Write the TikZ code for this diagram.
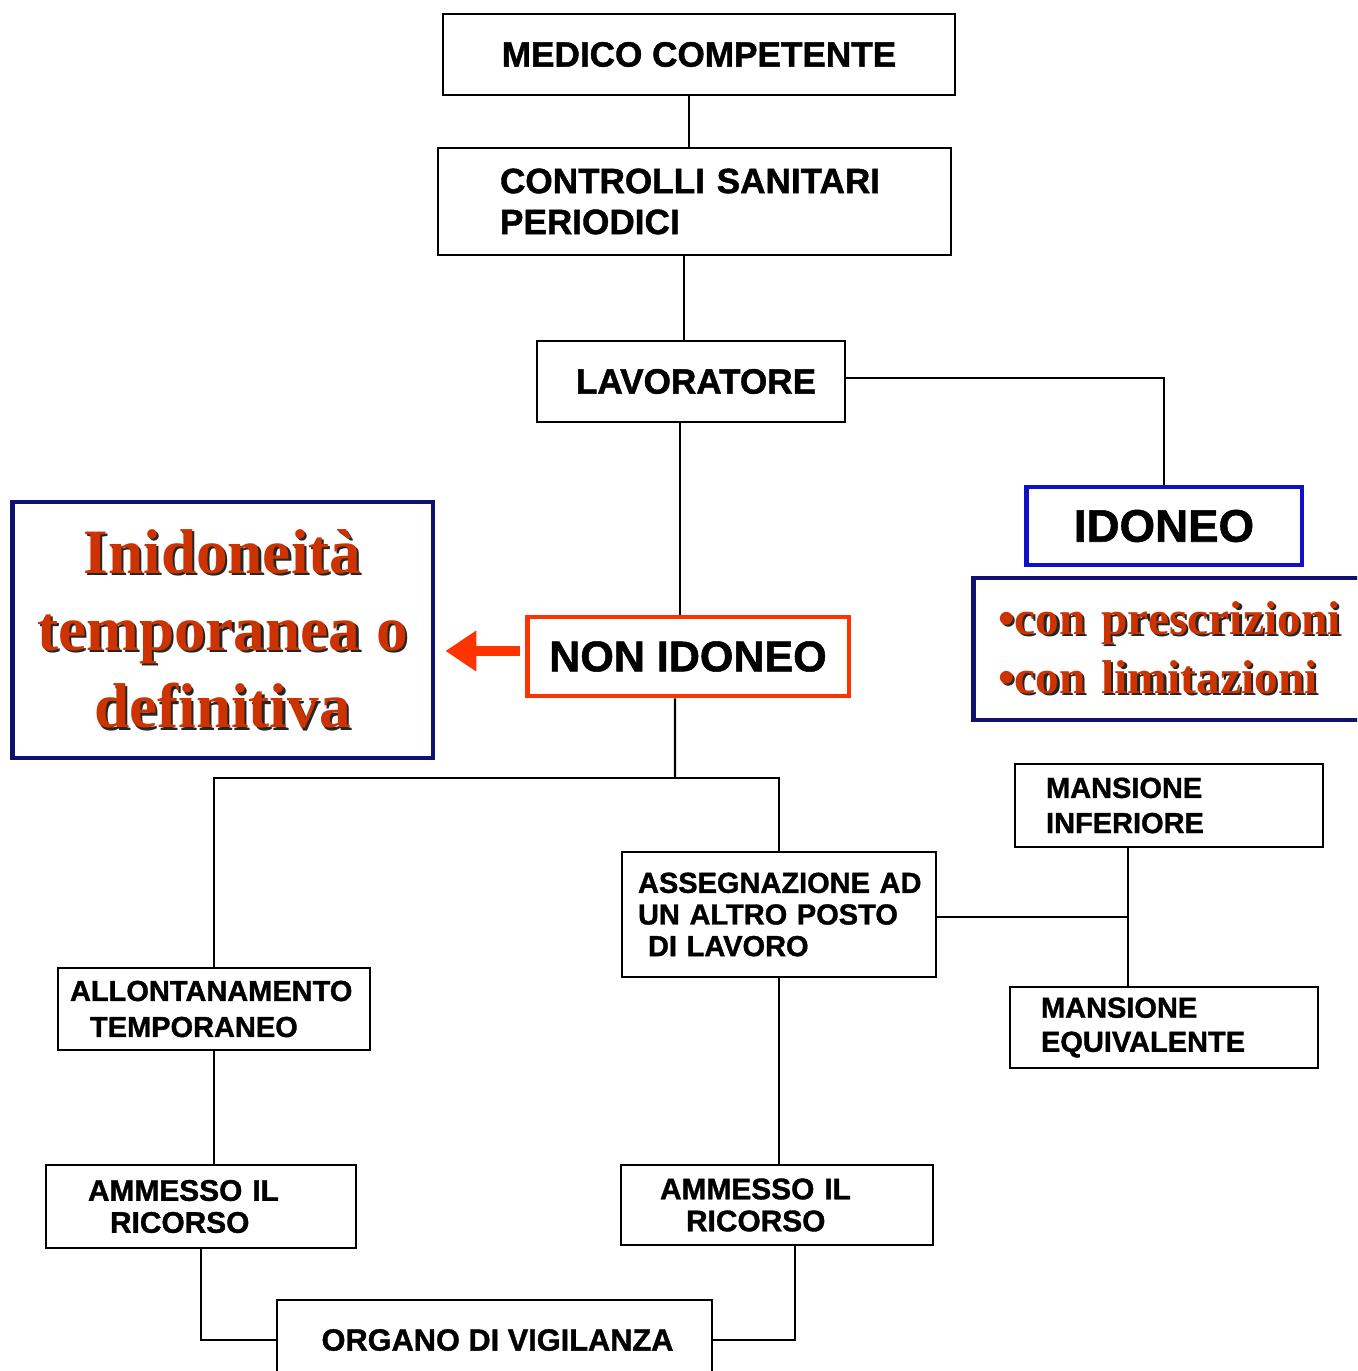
\documentclass[tikz,border=0pt]{standalone}
\usepackage{fontspec}
\setmainfont{Liberation Sans}[BoldFeatures={FakeBold=1.2}]
\newfontfamily\serifbf{Liberation Serif}
\usetikzlibrary{arrows.meta}
\definecolor{redtxt}{RGB}{204,51,0}
\definecolor{nired}{RGB}{255,51,0}
\definecolor{idblue}{RGB}{16,16,204}
\definecolor{navy}{RGB}{16,16,112}
\newcommand{\shd}[1]{\makebox[0pt][l]{\hspace{1.3pt}\raisebox{-1.3pt}{\color{black!85}#1}}#1}
\begin{document}
\begin{tikzpicture}[x=0.02cm,y=-0.02cm,
  box/.style={draw=black, line width=1.4pt, fill=white, inner sep=0pt,
    font=\bfseries\fontsize{20}{23.3}\selectfont},
  sbox/.style={box, font=\bfseries\fontsize{17}{19.5}\selectfont},
  conn/.style={line width=1.2pt},
  redarrow/.style={draw=nired, line width=0.2cm,
    -{Triangle[length=0.62cm,width=0.78cm]}},
  redtext/.style={text=redtxt, fill=white, draw=navy, line width=2.8pt, inner sep=0pt}
]
\useasboundingbox (0,0) rectangle (1357,1371);
\fill[white] (0,0) rectangle (1357,1371);
\clip (0,0) rectangle (1357,1371);

% nodes
\node[box, minimum width=10.24cm, minimum height=1.62cm] (med) at (699,54.5) {\raisebox{-2pt}{MEDICO COMPETENTE}};
\node[box, minimum width=10.26cm, minimum height=2.14cm, inner xsep=1.24cm, text width=7.78cm, align=left] (ctrl) at (694.5,201.5) {CONTROLLI~SANITARI\\PERIODICI};
\node[box, minimum width=6.16cm, minimum height=1.62cm] (lav) at (691,381.5) {\hspace*{0.2cm}LAVORATORE};
\node[box, draw=idblue, line width=2.8pt, minimum width=5.52cm, minimum height=1.56cm,
  font=\bfseries\fontsize{26}{30}\selectfont] (ido) at (1164,526) {IDONEO};
\node[redtext, minimum width=8cm, minimum height=2.84cm, inner xsep=0.5cm, text width=7cm, align=left,
  font=\serifbf\bfseries\fontsize{27}{33.6}\selectfont] (cond) at (1173,649)
  {\shd{•con~prescrizioni}\\\shd{•con~limitazioni}};
\node[redtext, minimum width=8.42cm, minimum height=5.12cm, align=center,
  font=\serifbf\bfseries\fontsize{36}{44}\selectfont] (inid) at (222.5,630)
  {\shd{Inidoneità}\\\shd{temporanea~o}\\\shd{definitiva}};
\node[box, draw=nired, line width=2.8pt, minimum width=6.44cm, minimum height=1.58cm,
  font=\bfseries\fontsize{24.5}{28}\selectfont] (nonid) at (688,656.5) {NON IDONEO};
\node[sbox, minimum width=6.28cm, minimum height=2.5cm, inner xsep=0.32cm, text width=5.64cm, align=left,
  font=\bfseries\fontsize{16.5}{18}\selectfont] (asseg) at (779,914.5)
  {ASSEGNAZIONE~AD\\UN~ALTRO~POSTO\\\hspace*{0.2cm}DI~LAVORO};
\node[sbox, minimum width=6.16cm, minimum height=1.66cm, inner xsep=0.62cm, text width=4.92cm, align=left,
  font=\bfseries\fontsize{16.5}{20}\selectfont] (minf) at (1169,805.5) {MANSIONE\\INFERIORE};
\node[sbox, minimum width=6.16cm, minimum height=1.62cm, inner xsep=0.62cm, text width=4.92cm, align=left,
  font=\bfseries\fontsize{16.5}{19.4}\selectfont] (mequ) at (1164,1027.5) {MANSIONE\\EQUIVALENTE};
\node[sbox, minimum width=6.24cm, minimum height=1.64cm, inner xsep=0.24cm, text width=5.76cm, align=left,
  font=\bfseries\fontsize{16.5}{20.5}\selectfont] (allon) at (214,1009) {ALLONTANAMENTO\\\hspace*{0.4cm}TEMPORANEO};
\node[sbox, minimum width=6.2cm, minimum height=1.66cm, inner xsep=0.84cm, text width=4.52cm, align=left,
  font=\bfseries\fontsize{17}{18.2}\selectfont] (amm1) at (201,1206.5) {AMMESSO~IL\\\hspace*{0.44cm}RICORSO};
\node[sbox, minimum width=6.24cm, minimum height=1.6cm, inner xsep=0.78cm, text width=4.68cm, align=left,
  font=\bfseries\fontsize{17}{18.2}\selectfont] (amm2) at (777,1205) {AMMESSO~IL\\\hspace*{0.52cm}RICORSO};
\node[sbox, minimum width=8.7cm, minimum height=1.6cm, font=\bfseries\fontsize{17.5}{20}\selectfont] (org) at (494.5,1340) {\hspace*{0.12cm}ORGANO DI VIGILANZA};

% connectors
\coordinate (c1) at ([xshift=-0.2cm]med.south);
\draw[conn] (c1) -- (c1 |- ctrl.north);
\coordinate (c2) at ([xshift=-0.21cm]ctrl.south);
\draw[conn] (c2) -- (c2 |- lav.north);
\coordinate (c3) at ([xshift=-0.22cm]lav.south);
\draw[conn] (c3) -- (c3 |- nonid.north);
\coordinate (c4) at ([yshift=0.07cm]lav.east);
\draw[conn] (c4) -| (ido.north);
\coordinate (c5) at ([xshift=-0.26cm]nonid.south);
\coordinate (split) at (675,778);
\draw[conn] (c5) -- (split);
\draw[conn] (allon.north) |- (split) -| (asseg.north);
\coordinate (vbar) at ([xshift=-0.82cm]minf.south);
\draw[conn] (vbar) -- (vbar |- mequ.north);
\coordinate (c6) at ([yshift=-0.05cm]asseg.east);
\draw[conn] (c6) -- (c6 -| vbar);
\draw[conn] (allon.south) -- (allon.south |- amm1.north);
\draw[conn] (asseg.south) -- (asseg.south |- amm2.north);
\draw[conn] (amm1.south) |- (org.west);
\coordinate (c7) at ([xshift=0.36cm]amm2.south);
\draw[conn] (c7) |- (org.east);
\coordinate (a1) at ([xshift=-0.1cm,yshift=0.11cm]nonid.west);
\coordinate (a2) at (a1 -| inid.east);
\draw[redarrow] (a1) -- ([xshift=0.2cm]a2);
\end{tikzpicture}
\end{document}
